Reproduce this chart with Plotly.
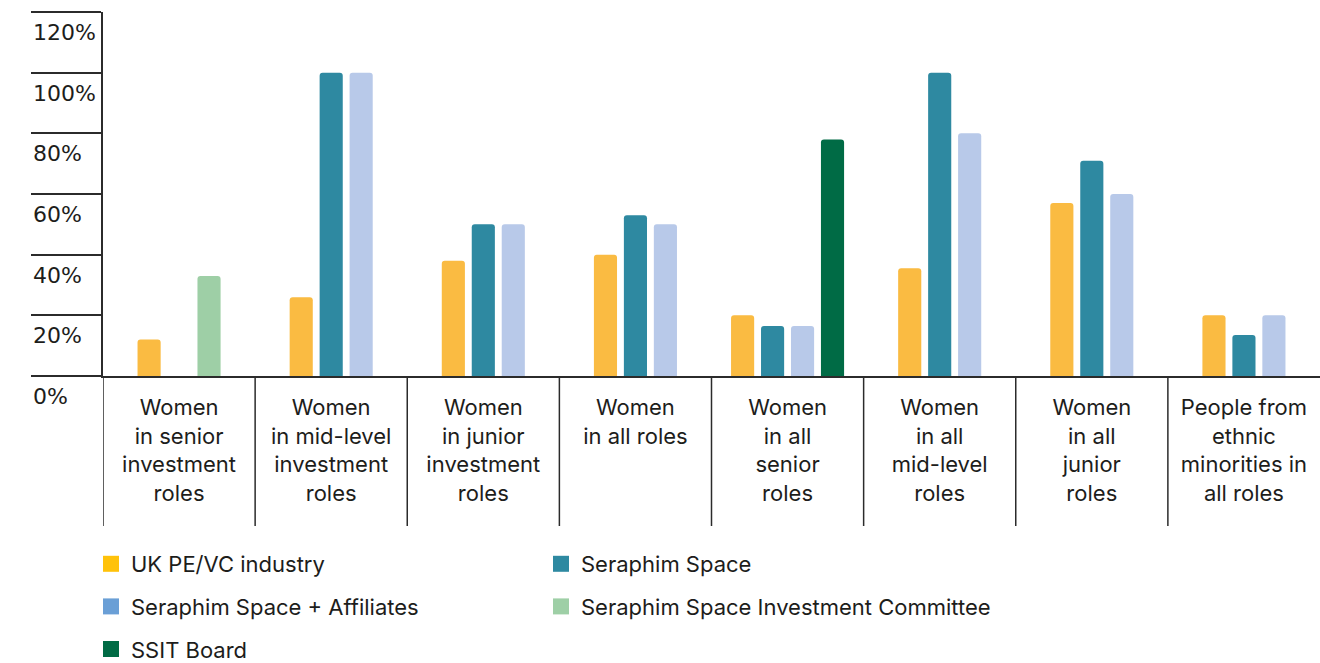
import plotly.graph_objects as go

# ---- data -------------------------------------------------------------
categories = [
    "Women<br>in senior<br>investment<br>roles",
    "Women<br>in mid-level<br>investment<br>roles",
    "Women<br>in junior<br>investment<br>roles",
    "Women<br>in all roles",
    "Women<br>in all<br>senior<br>roles",
    "Women<br>in all<br>mid-level<br>roles",
    "Women<br>in all<br>junior<br>roles",
    "People from<br>ethnic<br>minorities in<br>all roles",
]
uk_pevc = [12, 26, 38, 40, 20, 35.5, 57, 20]
seraphim = [None, 100, 50, 53, 16.5, 100, 71, 13.5]
seraphim_affiliates = [None, 100, 50, 50, 16.5, 80, 60, 20]
investment_committee = [33, None, None, None, None, None, None, None]
ssit_board = [None, None, None, None, 78, None, None, None]

y_tick_values = [0, 20, 40, 60, 80, 100, 120]
y_tick_labels = ["0%", "20%", "40%", "60%", "80%", "100%", "120%"]

# ---- styling ----------------------------------------------------------
W, H = 1320, 663
M_L, M_R, M_T, M_B = 103, 0, 12, 287
PLOT_W = W - M_L - M_R
PLOT_H = H - M_T - M_B
INK = "#1d1d1b"
AXIS = "#2b2b2b"
TEXT_FONT = "Inter, Liberation Sans, sans-serif"
NUM_FONT = "DejaVu Sans, sans-serif"

BAR_W = 0.152     # bar width in category units
STEP = 0.197      # distance between neighbouring bars in a cluster

# name, values, bar colour, legend swatch colour, slot within cluster, legend column
series = [
    ("UK PE/VC industry", uk_pevc, "#FABB42", "#FFC20A", 0, "legend"),
    ("Seraphim Space", seraphim, "#2E89A1", "#2E89A1", 1, "legend2"),
    ("Seraphim Space + Affiliates", seraphim_affiliates, "#B8C9E9", "#6A9FD6", 2, "legend"),
    ("Seraphim Space Investment Committee", investment_committee, "#9ECFA6", "#9ECFA6", 2, "legend2"),
    ("SSIT Board", ssit_board, "#006B45", "#006B45", 3, "legend"),
]

# number of bar slots used in each cluster
n_slots = []
for i in range(len(categories)):
    used = [s[4] for s in series if s[1][i] is not None]
    n_slots.append(max(used) + 1)

fig = go.Figure()

for name, values, color, swatch, slot, legend_id in series:
    offsets = [(slot - (n - 1) / 2) * STEP - BAR_W / 2 for n in n_slots]
    fig.add_trace(go.Bar(
        x=categories,
        y=values,
        offset=offsets,
        width=BAR_W,
        marker=dict(color=color, line=dict(width=0), cornerradius=3),
        name=name,
        showlegend=False,
        hovertemplate="%{y}%<extra>" + name + "</extra>",
    ))
    # legend entry with its own swatch colour
    fig.add_trace(go.Scatter(
        x=[None], y=[None], mode="markers",
        marker=dict(symbol="square", size=16, color=swatch),
        name=name, legend=legend_id, legendgroup=name, showlegend=True,
    ))

# separators between category columns, reaching down through the labels
sep_depth = 150 / PLOT_H
for i in range(len(categories)):
    fig.add_shape(type="line", xref="x", yref="paper",
                  x0=i - 0.5, x1=i - 0.5, y0=0, y1=-sep_depth,
                  line=dict(color=AXIS, width=1.5), layer="below")

# y labels sit just under their tick lines, left-aligned
for v, lab in zip(y_tick_values, y_tick_labels):
    fig.add_annotation(text=lab, xref="paper", yref="y", x=0, y=v,
                       xanchor="left", yanchor="top", xshift=-72, yshift=-6,
                       showarrow=False, font=dict(family=NUM_FONT, size=22, color=INK))

# two legend columns, rows spaced by the gap between one-item groups
legend_common = dict(orientation="v", xanchor="left", yanchor="top",
                     y=(H - M_B - 543) / PLOT_H, tracegroupgap=11,
                     bgcolor="rgba(0,0,0,0)",
                     font=dict(family=TEXT_FONT, size=22, color=INK))

fig.update_layout(
    width=W, height=H,
    margin=dict(l=M_L, r=M_R, t=M_T, b=M_B, autoexpand=False),
    paper_bgcolor="white", plot_bgcolor="white",
    barmode="overlay",
    showlegend=True,
    legend=dict(**legend_common, x=-12 / PLOT_W),
    legend2=dict(**legend_common, x=(553 - M_L - 12) / PLOT_W),
    xaxis=dict(
        type="category", categoryorder="array", categoryarray=categories,
        range=[-0.5, len(categories) - 0.5],
        showline=True, linecolor=AXIS, linewidth=1.5,
        showgrid=False, zeroline=False, ticks="",
        tickfont=dict(family=TEXT_FONT, size=22, color=INK),
        ticklabelstandoff=11, automargin=False,
    ),
    yaxis=dict(
        range=[0, 120], tickvals=y_tick_values,
        showline=True, linecolor=AXIS, linewidth=1.5,
        ticks="outside", ticklen=70, tickcolor=AXIS, tickwidth=1.5,
        showticklabels=False, showgrid=False, zeroline=False, automargin=False,
    ),
)

fig.write_html("out.html")
